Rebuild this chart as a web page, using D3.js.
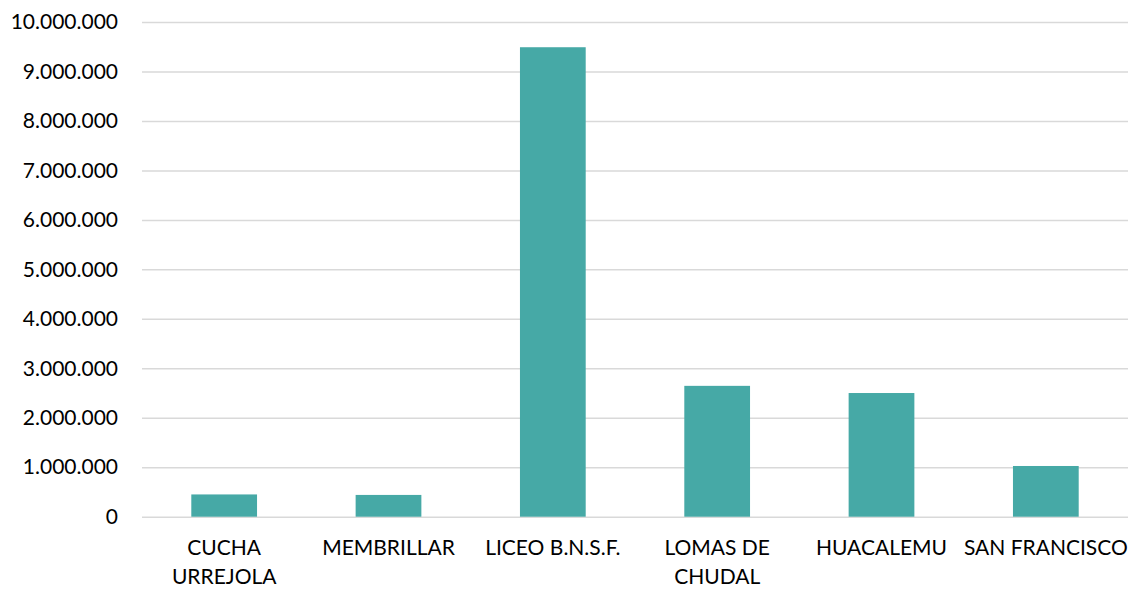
<!DOCTYPE html>
<html>
<head>
<meta charset="utf-8">
<script src="https://cdn.jsdelivr.net/npm/d3@7"></script>
<style>
  body { margin: 0; background: #fff; }
  text { font-family: Lato, "Open Sans", sans-serif; fill: #000; }
</style>
</head>
<body>
<script>
var w = 1130;
var h = 589;

// data
var categories = ["CUCHA URREJOLA", "MEMBRILLAR", "LICEO B.N.S.F.", "LOMAS DE CHUDAL", "HUACALEMU", "SAN FRANCISCO"];
var labelLines = [["CUCHA", "URREJOLA"], ["MEMBRILLAR"], ["LICEO B.N.S.F."], ["LOMAS DE", "CHUDAL"], ["HUACALEMU"], ["SAN FRANCISCO"]];
var values = [450000, 440000, 9490000, 2645000, 2500000, 1025000];
var yTicks = [0, 1000000, 2000000, 3000000, 4000000, 5000000, 6000000, 7000000, 8000000, 9000000, 10000000];

var margin = {top: 22, right: 2, bottom: 72, left: 142};

var svg = d3.select("body")
    .append("svg")
    .attr("width", w)
    .attr("height", h);

var x = d3.scaleBand()
    .domain(categories)
    .range([margin.left, w - margin.right])
    .paddingInner(0.6)
    .paddingOuter(0.3);

var y = d3.scaleLinear()
    .domain([0, 10000000])
    .range([h - margin.bottom - 0.3, margin.top]);

// 10.000.000 style numbers
var fmt = d3.formatLocale({decimal: ",", thousands: ".", grouping: [3], currency: ["$", ""]}).format(",.0f");

// gridlines + y labels
var yAxis = d3.axisLeft(y)
    .tickValues(yTicks)
    .tickFormat(fmt)
    .tickSize(-(w - margin.left - margin.right))
    .tickPadding(24);

var gy = svg.append("g")
    .attr("transform", "translate(" + margin.left + ",0)")
    .call(yAxis);
gy.select(".domain").remove();
gy.selectAll(".tick line")
    .attr("stroke", "#d9d9d9")
    .attr("stroke-width", 1.5);
gy.selectAll(".tick text")
    .style("font-size", "21px")
    .attr("fill", "#000");

// bars
svg.selectAll("rect.bar")
    .data(values)
    .enter()
    .append("rect")
    .attr("class", "bar")
    .attr("x", function(d, i) { return x(categories[i]); })
    .attr("y", function(d) { return y(d); })
    .attr("width", x.bandwidth())
    .attr("height", function(d) { return y(0) - y(d); })
    .attr("fill", "#46a9a6");

// category labels
var gx = svg.append("g");
gx.selectAll("text")
    .data(categories)
    .enter()
    .append("text")
    .attr("text-anchor", "middle")
    .style("font-size", "21px")
    .attr("x", function(d) { return x(d) + x.bandwidth() / 2; })
    .attr("y", 555)
    .each(function(d, i) {
        var t = d3.select(this);
        labelLines[i].forEach(function(line, j) {
            t.append("tspan")
                .attr("x", x(d) + x.bandwidth() / 2)
                .attr("dy", j === 0 ? 0 : 28.5)
                .text(line);
        });
    });
</script>
</body>
</html>
